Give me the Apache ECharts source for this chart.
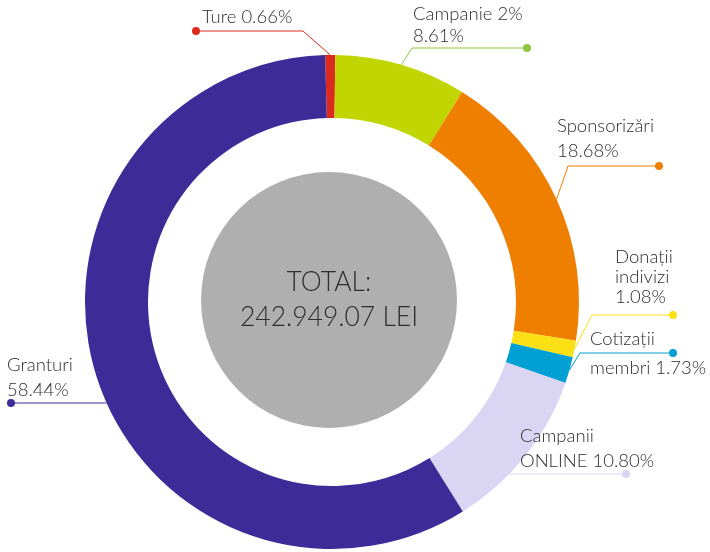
<!DOCTYPE html>
<html>
<head>
<meta charset="utf-8">
<script src="https://cdn.jsdelivr.net/npm/echarts@6/dist/echarts.min.js"></script>
<style>
    html, body { margin: 0; padding: 0; background: #fff; }
    #chart { width: 710px; height: 552px; }
</style>
</head>
<body>
<div id="chart"></div>
<script>
    // date din grafic
    var categories = ['Ture', 'Campanie 2%', 'Sponsorizări', 'Donații\nindivizi', 'Cotizații\nmembri', 'Campanii\nONLINE', 'Granturi'];
    var percents = [0.66, 8.61, 18.68, 1.08, 1.73, 10.80, 58.44];
    var totalLines = ['TOTAL:', '242.949.07 LEI'];

    var colors = ['#db2a1e', '#c1d600', '#ef7f00', '#fce016', '#00a0d4', '#d9d5f3', '#3d2b97'];
    var lineColors = ['#db2a1e', '#8dc63f', '#ef7f00', '#fce016', '#00a0d4', '#d9d5f3', '#3d2b97'];
    var textColor = '#2e2e2e';
    var font = 'Lato';

    // pozitia etichetelor (text sus-stanga, punct, cot)
    var labelPos = [
        {x: 202, y: 6, lh: 23, sep: ' ', dot: [196, 31], elbow: [303, 31]},
        {x: 413, y: 3, lh: 22, sep: '\n', dot: [527, 48], elbow: [412, 48]},
        {x: 557, y: 114, lh: 25, sep: '\n', dot: [659, 166], elbow: [568, 166]},
        {x: 615, y: 247, lh: 20, sep: '\n', dot: [673, 315], elbow: [592, 315]},
        {x: 590, y: 325, lh: 29, sep: ' ', dot: [673, 353], elbow: [580, 353]},
        {x: 520, y: 424, lh: 25, sep: ' ', dot: [626, 474], elbow: 'h'},
        {x: 7, y: 353, lh: 25, sep: '\n', dot: [11, 403], elbow: 'h'}
    ];

    var center = [332, 302];
    var outerR = 247;

    var myChart = echarts.init(document.getElementById('chart'), null, {renderer: 'canvas'});

    var mainData = percents.map(function (v, i) {
        return {
            value: v,
            name: categories[i],
            itemStyle: {color: colors[i]},
            label: {lineHeight: labelPos[i].lh},
            labelLine: {lineStyle: {color: lineColors[i]}}
        };
    });

    var dotData = percents.map(function (v, i) {
        return {
            value: v,
            name: categories[i],
            label: {
                rich: {d: {width: 8, height: 8, borderRadius: 4, backgroundColor: lineColors[i]}}
            }
        };
    });

    myChart.setOption({
        animation: false,
        series: [
            {
                name: 'total',
                type: 'pie',
                silent: true,
                center: [329, 300],
                radius: [0, 128],
                label: {
                    show: true,
                    position: 'center',
                    formatter: totalLines.join('\n'),
                    color: textColor,
                    fontFamily: font,
                    fontWeight: 300,
                    fontSize: 26.5,
                    lineHeight: 35
                },
                labelLine: {show: false},
                data: [{value: 1, name: 'TOTAL', itemStyle: {color: '#aeafae'}}]
            },
            {
                name: 'puncte',
                type: 'pie',
                silent: true,
                center: center,
                radius: [184, outerR],
                startAngle: 91.6,
                itemStyle: {color: 'transparent'},
                label: {
                    show: true,
                    position: 'outside',
                    formatter: '{d|}'
                },
                labelLine: {show: false},
                labelLayout: function (p) {
                    var lp = labelPos[p.dataIndex];
                    return {x: lp.dot[0], y: lp.dot[1], align: 'center', verticalAlign: 'middle'};
                },
                data: dotData
            },
            {
                name: 'surse',
                type: 'pie',
                silent: true,
                center: center,
                radius: [184, outerR],
                startAngle: 91.6,
                avoidLabelOverlap: false,
                label: {
                    show: true,
                    position: 'outside',
                    color: textColor,
                    fontFamily: font,
                    fontWeight: 300,
                    fontSize: 18.5,
                    formatter: function (p) {
                        var lp = labelPos[p.dataIndex];
                        return p.name + lp.sep + percents[p.dataIndex].toFixed(2) + '%';
                    }
                },
                labelLine: {show: true, lineStyle: {width: 1}},
                labelLayout: function (p) {
                    var lp = labelPos[p.dataIndex];
                    var start = p.labelLinePoints ? p.labelLinePoints[0] : center;
                    var pts;
                    if (lp.elbow === 'h') {
                        // linie orizontala pana la marginea inelului
                        var dy = lp.dot[1] - center[1];
                        var dx = Math.sqrt(outerR * outerR - dy * dy);
                        var sx = lp.dot[0] < center[0] ? center[0] - dx : center[0] + dx;
                        pts = [[sx, lp.dot[1]], [(sx + lp.dot[0]) / 2, lp.dot[1]], lp.dot];
                    } else {
                        pts = [start, lp.elbow, lp.dot];
                    }
                    return {
                        x: lp.x,
                        y: lp.y,
                        align: 'left',
                        verticalAlign: 'top',
                        labelLinePoints: pts
                    };
                },
                data: mainData
            }
        ]
    });
</script>
</body>
</html>
